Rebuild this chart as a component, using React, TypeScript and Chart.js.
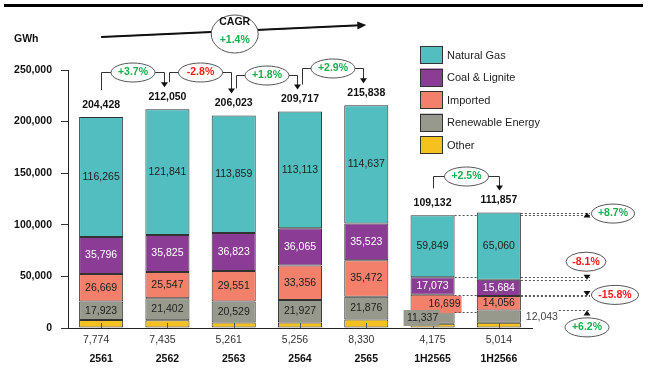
import { useEffect, useRef } from "react";
import { Chart, registerables } from "chart.js";

Chart.register(...registerables);

const categories = ["2561", "2562", "2563", "2564", "2565", "1H2565", "1H2566"];
const naturalGas = [116265, 121841, 113859, 113113, 114637, 59849, 65060];
const coalLignite = [35796, 35825, 36823, 36065, 35523, 17073, 15684];
const imported = [26669, 25547, 29551, 33356, 35472, 16699, 14056];
const renewable = [17923, 21402, 20529, 21927, 21876, 11337, 12043];
const other = [7774, 7435, 5261, 5256, 8330, 4175, 5014];
const totals = [204428, 212050, 206023, 209717, 215838, 109132, 111857];
const yearChanges = ["+3.7%", "-2.8%", "+1.8%", "+2.9%"];
const halfYearChange = "+2.5%";
const cagrValue = "+1.4%";
// half-year change per source: Natural Gas, Coal & Lignite, Imported, Renewable Energy
const halfSourceChanges = ["+8.7%", "-8.1%", "-15.8%", "+6.2%"];

const seriesNames = ["Other", "Renewable Energy", "Imported", "Coal & Lignite", "Natural Gas"];
const seriesColors = ["#F5C11F", "#97998C", "#F3806A", "#8B3C95", "#52BEBF"];

const FONT = 'Arial, "Liberation Sans", sans-serif';
const GREEN = "#16B04C";
const RED = "#FF1A1A";

const fmt = (v: number) => v.toLocaleString("en-US");

function txt(ctx: CanvasRenderingContext2D, s: string, x: number, y: number, weight: string, color: string, align: CanvasTextAlign = "center", size = 10.5) {
  ctx.font = `${weight} ${size}px ${FONT}`;
  ctx.fillStyle = color;
  ctx.textAlign = align;
  ctx.textBaseline = "middle";
  ctx.fillText(s, x, y);
}

function ellipse(ctx: CanvasRenderingContext2D, cx: number, cy: number, rx: number, ry: number) {
  ctx.beginPath();
  ctx.ellipse(cx, cy, rx, ry, 0, 0, Math.PI * 2);
  ctx.fillStyle = "#fff";
  ctx.fill();
  ctx.strokeStyle = "#555";
  ctx.lineWidth = 1;
  ctx.stroke();
}

function pctColor(s: string) {
  return s.startsWith("-") ? RED : GREEN;
}

function tri(ctx: CanvasRenderingContext2D, x: number, tipY: number, up: boolean) {
  ctx.beginPath();
  ctx.moveTo(x, tipY);
  ctx.lineTo(x - 3.5, tipY + (up ? 5 : -5));
  ctx.lineTo(x + 3.5, tipY + (up ? 5 : -5));
  ctx.closePath();
  ctx.fillStyle = "#111";
  ctx.fill();
}

function line(ctx: CanvasRenderingContext2D, pts: number[][], color = "#333", dash: number[] = []) {
  ctx.beginPath();
  ctx.setLineDash(dash);
  ctx.strokeStyle = color;
  ctx.lineWidth = 1;
  pts.forEach((p, k) => (k === 0 ? ctx.moveTo(p[0], p[1]) : ctx.lineTo(p[0], p[1])));
  ctx.stroke();
  ctx.setLineDash([]);
}

const annotate = {
  id: "annotate",
  afterDraw(chart: any) {
    const ctx: CanvasRenderingContext2D = chart.ctx;
    const area = chart.chartArea;
    const xs = chart.scales.x;
    const n = categories.length;
    const cx = (i: number) => xs.getPixelForValue(i);
    const el = (d: number, i: number) => chart.getDatasetMeta(d).data[i] as any;
    ctx.save();

    // top rule
    ctx.fillStyle = "#000";
    ctx.fillRect(4, 4, 639, 3);

    // unit
    txt(ctx, "GWh", 14, 39, "bold", "#111", "left");

    // inner tick marks
    for (let i = 0; i < n; i++) {
      const x = Math.round(cx(i)) + 0.5;
      line(ctx, [[x, area.bottom - 5], [x, area.bottom]], "#555");
    }

    // segment labels
    for (let d = 1; d <= 4; d++) {
      for (let i = 0; i < n; i++) {
        if (i === 5 && (d === 1 || d === 2)) continue;
        if (i === 6 && d === 1) continue;
        const e = el(d, i);
        const vals = [other, renewable, imported, coalLignite, naturalGas][d];
        txt(ctx, fmt(vals[i]), e.x, (e.y + e.base) / 2, "normal", d === 3 ? "#fff" : "#222");
      }
    }
    // special labels of 1H bars
    {
      const e = el(2, 5);
      ctx.fillStyle = seriesColors[2];
      ctx.fillRect(e.x - 21, e.y + 1, 50, e.base - e.y);
      txt(ctx, fmt(imported[5]), e.x + 12, (e.y + e.base) / 2 + 1, "normal", "#222");
      const r = el(1, 5);
      ctx.fillStyle = seriesColors[1];
      ctx.fillRect(r.x - 29, r.y - 2, 36, 16);
      txt(ctx, fmt(renewable[5]), r.x - 10, r.y + 6, "normal", "#222");
      const r6 = el(1, 6);
      txt(ctx, fmt(renewable[6]), r6.x + 43, (r6.y + r6.base) / 2, "normal", "#444");
    }

    // other values under the axis
    for (let i = 0; i < n; i++) {
      txt(ctx, fmt(other[i]), i < 5 ? cx(i) - 5 : cx(i), area.bottom + 12, "normal", "#333");
    }

    // totals
    const labelY = (i: number) => el(4, i).y - 12;
    for (let i = 0; i < n; i++) {
      txt(ctx, fmt(totals[i]), el(4, i).x, labelY(i), "bold", "#111");
    }

    // growth brackets
    const pairs: [number, number, string][] = [
      [0, 1, yearChanges[0]],
      [1, 2, yearChanges[1]],
      [2, 3, yearChanges[2]],
      [3, 4, yearChanges[3]],
      [5, 6, halfYearChange],
    ];
    pairs.forEach(([a, b, s]) => {
      const xl = Math.round(cx(a) + (a === 0 || a === 5 ? 0 : 2)) + 0.5;
      const xr = Math.round(cx(b) - (b === 6 ? 0 : 3)) + 0.5;
      const xm = (xl + xr) / 2;
      const yb = Math.round(Math.min(labelY(a), labelY(b)) - 25) + 0.5;
      const tip = labelY(b) - 10;
      line(ctx, [[xl, labelY(a) - 15], [xl, yb], [xr, yb], [xr, tip - 4]]);
      tri(ctx, xr, tip, false);
      ellipse(ctx, xm, yb, 22, 9.5);
      txt(ctx, s, xm, yb, "bold", pctColor(s));
    });

    // CAGR arrow
    {
      const x0 = cx(0), x1 = cx(4);
      const y0 = 37, y1 = 25;
      line(ctx, [[x0, y0], [x1 - 6, y1 + 0.3]], "#111");
      ctx.lineWidth = 2;
      ctx.beginPath();
      ctx.moveTo(x0, y0);
      ctx.lineTo(x1 - 6, y1 + 0.3);
      ctx.strokeStyle = "#111";
      ctx.stroke();
      const ang = Math.atan2(y1 - y0, x1 - x0);
      ctx.beginPath();
      ctx.moveTo(x1, y1);
      ctx.lineTo(x1 - 9 * Math.cos(ang) + 4 * Math.sin(ang), y1 - 9 * Math.sin(ang) - 4 * Math.cos(ang));
      ctx.lineTo(x1 - 9 * Math.cos(ang) - 4 * Math.sin(ang), y1 - 9 * Math.sin(ang) + 4 * Math.cos(ang));
      ctx.closePath();
      ctx.fillStyle = "#111";
      ctx.fill();
      const ccx = cx(2) + 1;
      ellipse(ctx, ccx, 34, 23.5, 19);
      txt(ctx, "CAGR", ccx, 22, "bold", "#111");
      txt(ctx, cagrValue, ccx, 40, "bold", GREEN);
    }

    // half-year source comparison
    {
      const xA = area.right + 55;
      const ds = [4, 3, 2, 1];
      const off = [[26, 1, 21.5], [-1, -18, 20], [28, -1, 23.5], [0, 17, 22]];
      ds.forEach((d, k) => {
        const e5 = el(d, 5), e6 = el(d, 6);
        const y5 = Math.round(e5.y) + 0.5, y6 = Math.round(e6.y) + 0.5;
        const r5 = e5.x + e5.width / 2, l6 = e6.x - e6.width / 2, r6 = e6.x + e6.width / 2;
        const dash = [2, 2];
        line(ctx, [[r5, y5], [l6, y5]], "#555", dash);
        if (d === 1) {
          line(ctx, [[r6 + 38, y6], [xA + 3, y6]], "#555", dash);
        } else {
          line(ctx, [[r6, y5], [xA + 3, y5]], "#555", dash);
          line(ctx, [[r6, y6], [xA + 3, y6]], "#555", dash);
        }
        tri(ctx, xA, e6.y, e6.y < e5.y);
        const s = halfSourceChanges[k];
        ellipse(ctx, xA + off[k][0], e6.y + off[k][1], off[k][2], 9.5);
        txt(ctx, s, xA + off[k][0], e6.y + off[k][1], "bold", pctColor(s));
      });
    }

    // legend
    for (let k = 0; k < 5; k++) {
      const d = 4 - k;
      const y = 46 + k * 22.5;
      ctx.fillStyle = seriesColors[d];
      ctx.fillRect(420, y, 23, 18);
      ctx.strokeStyle = "#333";
      ctx.lineWidth = 1;
      ctx.strokeRect(420.5, Math.round(y) + 0.5, 22, 17);
      txt(ctx, seriesNames[d], 447, y + 9.5, "normal", "#222", "left", 11);
    }

    ctx.restore();
  },
};

export default function App() {
  const ref = useRef<HTMLCanvasElement>(null);
  useEffect(() => {
    if (!ref.current) return;
    const seriesValues = [other, renewable, imported, coalLignite, naturalGas];
    const chart = new Chart(ref.current, {
      type: "bar",
      data: {
        labels: categories,
        datasets: seriesValues.map((vals, d) => ({
          label: seriesNames[d],
          data: vals,
          backgroundColor: seriesColors[d],
          borderColor: "#333",
          borderWidth: 1,
          borderSkipped: false,
          barPercentage: 0.665,
          categoryPercentage: 1,
        })),
      },
      options: {
        responsive: false,
        animation: false,
        layout: { padding: { top: 70, right: 119, left: 0, bottom: 0 } },
        plugins: { legend: { display: false }, tooltip: { enabled: false } },
        scales: {
          x: {
            stacked: true,
            grid: { display: false, drawTicks: false },
            border: { display: true, color: "#222", width: 1 },
            ticks: {
              font: { family: FONT, size: 10.5, weight: "bold" },
              color: "#111",
              padding: 25,
              maxRotation: 0,
              autoSkip: false,
            },
            afterFit: (s: any) => {
              s.height = 48;
            },
          },
          y: {
            stacked: true,
            min: 0,
            max: 250000,
            ticks: {
              stepSize: 50000,
              font: { family: FONT, size: 10.5, weight: "bold" },
              color: "#111",
              padding: 9,
              callback: (v: any) => fmt(Number(v)),
            },
            grid: { drawOnChartArea: false, tickLength: 7, color: "#333" },
            border: { display: true, color: "#222", width: 1 },
            afterFit: (s: any) => {
              s.width = 68;
            },
          },
        },
      } as any,
      plugins: [annotate],
    });
    return () => chart.destroy();
  }, []);
  return (
    <div style={{ position: "fixed", left: 0, top: 0, width: 651, height: 376, background: "#fff" }}>
      <canvas ref={ref} width={651} height={376} />
    </div>
  );
}
